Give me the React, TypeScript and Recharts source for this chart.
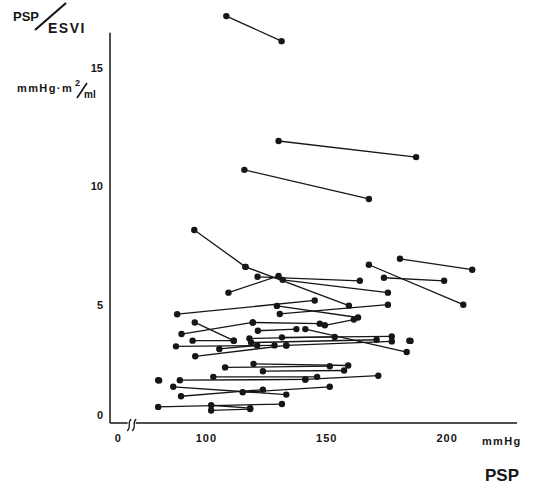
import { ScatterChart, Scatter, XAxis, YAxis, ReferenceLine, ReferenceDot } from 'recharts';

// Each patient: PSP (mmHg) and PSP/ESVI (mmHg·m²/ml) at two measurements, joined by a line
const pspFirst = [
  108.3, 130.0, 115.8, 95.0, 116.25, 121.25, 109.2, 131.7, 180.4, 167.5, 173.75,
  87.9, 129.3, 130.5, 95.2, 89.7, 119.3, 121.4, 94.3, 117.9, 131.4, 87.4, 105.4,
  95.4, 133.2, 141.1, 118.6, 184.3, 149.2, 107.8, 119.6, 102.9, 123.5, 89.0,
  141.1, 80.0, 86.25, 89.5, 115.1, 80.0, 102.0, 102.0,
];
const ratioFirst = [
  17.2, 11.92, 10.7, 8.16, 6.6, 6.18, 5.51, 6.05, 6.94, 6.69, 6.14,
  4.6, 4.95, 4.61, 4.25, 3.76, 4.25, 3.9, 3.48, 3.57, 3.62, 3.24, 3.13,
  2.82, 3.28, 3.97, 3.4, 3.48, 4.13, 2.35, 2.5, 1.95, 2.19, 1.81,
  1.84, 1.81, 1.53, 1.13, 1.3, 0.68, 0.75, 0.53,
];
const pspSecond = [
  131.25, 187.1, 167.5, 116.25, 159.2, 163.75, 130.0, 175.4, 210.4, 206.7, 198.75,
  145.0, 163.0, 175.4, 111.4, 119.3, 147.1, 137.4, 111.4, 153.3, 177.0, 128.3, 121.1,
  133.2, 177.0, 183.2, 170.7, 184.8, 161.25, 151.25, 158.9, 146.0, 157.2, 141.1,
  171.4, 80.4, 133.2, 123.5, 151.25, 131.4, 118.2, 118.2,
];
const ratioSecond = [
  16.14, 11.24, 9.47, 6.6, 4.96, 6.01, 6.22, 5.51, 6.48, 5.0, 6.01,
  5.18, 4.46, 5.0, 3.48, 4.25, 4.2, 3.97, 3.48, 3.64, 3.66, 3.28, 3.28,
  3.28, 3.45, 3.0, 3.52, 3.47, 4.37, 2.4, 2.43, 1.95, 2.22, 1.84,
  2.0, 1.8, 1.2, 1.41, 1.53, 0.8, 0.63, 0.59,
];

const yTicks = [0, 5, 10, 15];
const xTicks = [100, 150, 200];
const X_DOMAIN: [number, number] = [60, 229];
const Y_DOMAIN: [number, number] = [0, 17.5];
const Y_AXIS_TOP = 16.5;
const ZERO_LABEL_AT = 63.5; // "0" label sits left of the axis break
const BREAK_AT = 69;

const INK = '#161616';
const FONT = '"Liberation Sans", Arial, Helvetica, sans-serif';

const pairs = pspFirst.map((x, i) => [
  { x, y: ratioFirst[i] },
  { x: pspSecond[i], y: ratioSecond[i] },
]);

// eslint-disable-next-line @typescript-eslint/no-explicit-any
const Dot = (props: any) => <circle cx={props.cx} cy={props.cy} r={3.2} fill={INK} />;

// eslint-disable-next-line @typescript-eslint/no-explicit-any
const BreakMark = ({ cx, cy }: any) => (
  <g>
    <rect x={cx - 4} y={cy - 2} width={8} height={4} fill="#fff" />
    {[-2.5, 2.5].map((o) => (
      <path
        key={o}
        d={`M ${cx + o - 2} ${cy + 8} C ${cx + o + 3} ${cy + 4}, ${cx + o - 3} ${cy + 1}, ${cx + o + 2} ${cy - 4}`}
        stroke={INK}
        strokeWidth={1.2}
        fill="none"
      />
    ))}
  </g>
);

// eslint-disable-next-line @typescript-eslint/no-explicit-any
const YTick = ({ x, y, payload }: any) => (
  <text
    x={x}
    y={payload.value === 0 ? y - 8 : y}
    dy="0.35em"
    textAnchor="end"
    fontFamily={FONT}
    fontWeight={700}
    fontSize={11}
    fill={INK}
  >
    {payload.value}
  </text>
);

// eslint-disable-next-line @typescript-eslint/no-explicit-any
const XTick = ({ x, y, payload }: any) => (
  <text
    x={x}
    y={y}
    dy="0.71em"
    textAnchor="middle"
    fontFamily={FONT}
    fontWeight={700}
    fontSize={11}
    letterSpacing={1}
    fill={INK}
  >
    {payload.value === ZERO_LABEL_AT ? '0' : payload.value}
  </text>
);

export default function App() {
  return (
    <div style={{ position: 'absolute', left: 0, top: 0, width: 535, height: 486, background: '#fff' }}>
      <ScatterChart width={535} height={486} margin={{ top: 9, right: 18, bottom: 0, left: 0 }}>
        <XAxis
          type="number"
          dataKey="x"
          domain={X_DOMAIN}
          ticks={[ZERO_LABEL_AT, ...xTicks]}
          allowDataOverflow
          height={63}
          tickLine={false}
          tickSize={0}
          tickMargin={11}
          tick={<XTick />}
          axisLine={{ stroke: INK, strokeWidth: 1.5 }}
        />
        <YAxis
          type="number"
          dataKey="y"
          domain={Y_DOMAIN}
          ticks={yTicks}
          width={110}
          tickLine={false}
          tickSize={0}
          tickMargin={7}
          tick={<YTick />}
          axisLine={false}
        />
        <ReferenceLine
          segment={[
            { x: X_DOMAIN[0], y: 0 },
            { x: X_DOMAIN[0], y: Y_AXIS_TOP },
          ]}
          stroke={INK}
          strokeWidth={1.5}
        />
        {pairs.map((pair, i) => (
          <Scatter
            key={i}
            data={pair}
            line={{ stroke: INK, strokeWidth: 1.3 }}
            shape={<Dot />}
            isAnimationActive={false}
          />
        ))}
        <ReferenceDot x={BREAK_AT} y={0} r={0} shape={<BreakMark />} ifOverflow="visible" />
      </ScatterChart>
      <svg
        width={535}
        height={486}
        style={{ position: 'absolute', left: 0, top: 0, pointerEvents: 'none' }}
        fontFamily={FONT}
        fontWeight={700}
        fill={INK}
      >
        <text x={13} y={21} fontSize={13}>PSP</text>
        <line x1={35} y1={30} x2={66} y2={3} stroke={INK} strokeWidth={2.2} />
        <text x={48} y={33} fontSize={14} letterSpacing={1.5}>ESVI</text>
        <text x={17} y={92} fontSize={11} letterSpacing={1.4}>mmHg·m</text>
        <text x={75} y={86} fontSize={9}>2</text>
        <line x1={77} y1={98} x2={87} y2={83} stroke={INK} strokeWidth={1.6} />
        <text x={84} y={98} fontSize={10}>ml</text>
        <text x={482} y={445} fontSize={11} letterSpacing={1.3}>mmHg</text>
        <text x={485} y={481} fontSize={17}>PSP</text>
      </svg>
    </div>
  );
}
